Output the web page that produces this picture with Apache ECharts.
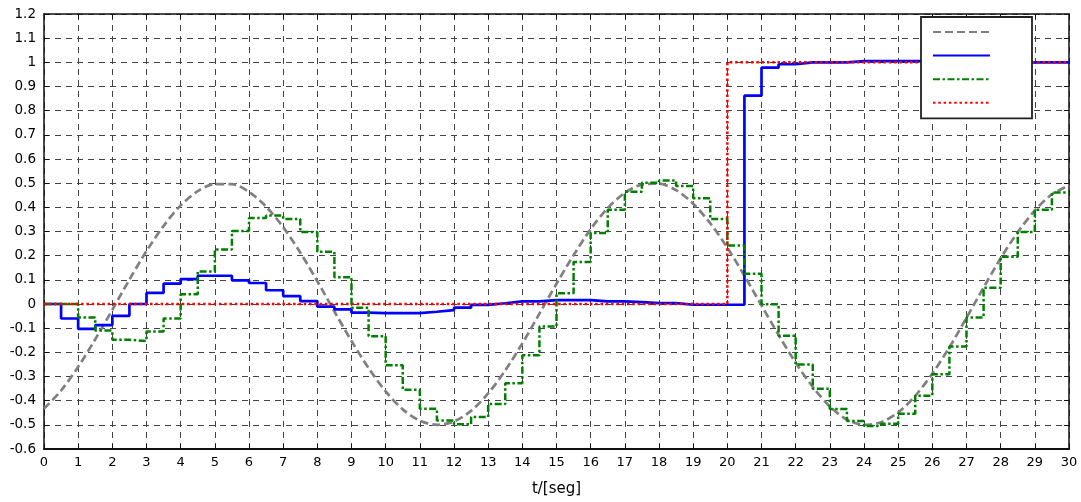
<!DOCTYPE html>
<html>
<head>
<meta charset="utf-8">
<script src="https://cdn.jsdelivr.net/npm/echarts@6/dist/echarts.min.js"></script>
<style>
  html, body { margin: 0; padding: 0; background: #fff; }
  #chart { width: 1081px; height: 502px; }
</style>
</head>
<body>
<div id="chart"></div>
<script>
// sample instants every 0.5 s, 0 .. 30
const sampleT = (function () {
  const arr = []
  for (let i = 0; i <= 60; i++) arr.push(i / 2)
  return arr
})()

// reference (gray dashed) at each sample instant
const refValues = [
  -0.433, -0.358, -0.260, -0.146, -0.024, 0.101, 0.219, 0.323, 0.408, 0.467,
  0.496, 0.496, 0.464, 0.403, 0.318, 0.213, 0.094, -0.031, -0.153, -0.265,
  -0.362, -0.436, -0.483, -0.500, -0.486, -0.442, -0.370, -0.275, -0.163, -0.040,
  0.084, 0.202, 0.310, 0.397, 0.460, 0.494, 0.498, 0.471, 0.415, 0.334,
  0.233, 0.117, -0.006, -0.128, -0.243, -0.343, -0.424, -0.478, -0.500, -0.489,
  -0.449, -0.380, -0.288, -0.179, -0.057, 0.068, 0.189, 0.297, 0.387, 0.454,
  0.491
]

// output (blue solid, zero-order hold)
const outValues = [
  0, -0.060, -0.103, -0.087, -0.049, 0.000, 0.046, 0.084, 0.103, 0.117,
  0.117, 0.098, 0.087, 0.057, 0.033, 0.012, -0.011, -0.022, -0.036, -0.038,
  -0.038, -0.038, -0.032, -0.025, -0.015, -0.004, 0.003, 0.011, 0.011, 0.016,
  0.016, 0.016, 0.011, 0.011, 0.008, 0.004, 0.004, -0.003, -0.003, -0.003,
  -0.003, 0.862, 0.978, 0.992, 1.000, 1.000, 1.000, 1.005, 1.005, 1.005,
  1.005, 1.005, 1.005, 1.003, 1.002, 1.000, 1.000, 1.000, 1.000, 1.000,
  1.000
]

// green dash-dot (zero-order hold)
const ctrlValues = [
  0, 0, -0.056, -0.110, -0.148, -0.153, -0.114, -0.060, 0.040, 0.135,
  0.226, 0.302, 0.356, 0.366, 0.352, 0.298, 0.216, 0.111, -0.015, -0.133,
  -0.253, -0.355, -0.433, -0.482, -0.498, -0.468, -0.414, -0.328, -0.212, -0.093,
  0.044, 0.174, 0.294, 0.390, 0.464, 0.502, 0.511, 0.488, 0.438, 0.352,
  0.242, 0.125, -0.001, -0.131, -0.250, -0.351, -0.434, -0.484, -0.505, -0.495,
  -0.454, -0.380, -0.291, -0.176, -0.056, 0.067, 0.196, 0.298, 0.390, 0.461,
  0.461
]

// red dotted step
const stepT = [0, 20, 30]
const stepValues = [0, 1, 1]

const seriesNames = ['referencia', 'salida', 'control', 'escalon']

const zip = (xs, ys) => xs.map((x, i) => [x, ys[i]])

const font = 'DejaVu Sans'
const frame = { show: true, onZero: false, lineStyle: { color: '#111', width: 1.5 } }
const ticks = { show: true, inside: true, length: 5, lineStyle: { color: '#111', width: 1 } }
const grid = { show: true, lineStyle: { color: '#444', width: 1, type: [6, 5] } }

const chart = echarts.init(document.getElementById('chart'))
chart.setOption({
  animation: false,
  backgroundColor: '#fff',
  grid: { left: 44, right: 12, top: 14, bottom: 47 },
  legend: {
    orient: 'vertical',
    left: 921,
    top: 17,
    data: seriesNames,
    formatter: () => '',
    itemWidth: 57,
    itemHeight: 14,
    itemGap: 11,
    padding: [8, 41, 10, 11],
    borderColor: '#222',
    borderWidth: 1.8,
    backgroundColor: '#fff',
    itemStyle: { opacity: 0 },
    textStyle: { fontSize: 1 }
  },
  xAxis: [{
    type: 'value',
    min: 0,
    max: 30,
    interval: 1,
    name: 't/[seg]',
    nameLocation: 'middle',
    nameGap: 33,
    nameTextStyle: { fontFamily: font, fontSize: 15, color: '#000' },
    axisLine: { show: true, onZero: false, lineStyle: { color: '#111', width: 2 } },
    axisTick: ticks,
    axisLabel: { fontFamily: font, fontSize: 13, color: '#000', margin: 7 },
    splitLine: grid
  }, {
    type: 'value',
    position: 'top',
    min: 0,
    max: 30,
    interval: 1,
    axisLine: frame,
    axisTick: ticks,
    axisLabel: { show: false },
    splitLine: { show: false }
  }],
  yAxis: [{
    type: 'value',
    min: -0.6,
    max: 1.2,
    interval: 0.1,
    axisLine: frame,
    axisTick: ticks,
    axisLabel: {
      fontFamily: font,
      fontSize: 13.5,
      color: '#000',
      margin: 8,
      formatter: v => String(+v.toFixed(1))
    },
    splitLine: grid
  }, {
    type: 'value',
    position: 'right',
    min: -0.6,
    max: 1.2,
    interval: 0.1,
    axisLine: frame,
    axisTick: ticks,
    axisLabel: { show: false },
    splitLine: { show: false }
  }],
  series: [{
    name: seriesNames[0],
    type: 'line',
    symbol: 'none',
    smooth: 0.3,
    lineStyle: { color: '#808080', width: 2.7, type: [8, 4] },
    itemStyle: { color: '#808080' },
    data: zip(sampleT, refValues)
  }, {
    name: seriesNames[1],
    type: 'line',
    symbol: 'none',
    step: 'end',
    lineStyle: { color: '#0000ff', width: 2.7 },
    itemStyle: { color: '#0000ff' },
    data: zip(sampleT, outValues)
  }, {
    name: seriesNames[2],
    type: 'line',
    symbol: 'none',
    step: 'end',
    lineStyle: { color: '#008000', width: 2.5, type: [7, 2.5, 2.5, 2.5] },
    itemStyle: { color: '#008000' },
    data: zip(sampleT, ctrlValues)
  }, {
    name: seriesNames[3],
    type: 'line',
    symbol: 'none',
    step: 'end',
    lineStyle: { color: '#ff0000', width: 2.5, type: [2.5, 2.8] },
    itemStyle: { color: '#ff0000' },
    data: zip(stepT, stepValues)
  }]
})
</script>
</body>
</html>
